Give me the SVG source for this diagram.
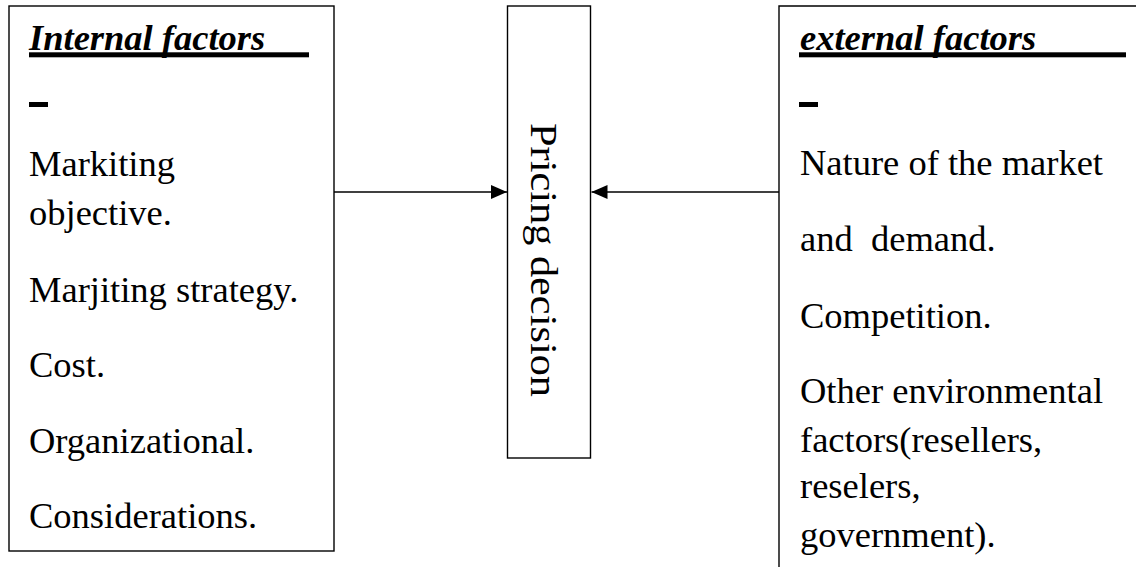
<svg xmlns="http://www.w3.org/2000/svg" width="1136" height="567" viewBox="0 0 1136 567">
<defs>
<style>
.box{fill:none;stroke:#000;stroke-width:1.4}
.t{font-family:"Liberation Serif","Times New Roman",serif;font-size:36.5px;fill:#000}
.h{font-weight:bold;font-style:italic}
.bar{fill:#000}
.conn{stroke:#000;stroke-width:1.4;fill:none}
</style>
<marker id="ah" markerWidth="16" markerHeight="14" refX="16" refY="7" orient="auto" markerUnits="userSpaceOnUse">
<path d="M0,0 L16,7 L0,14 Z" fill="#000"/>
</marker>
</defs>
<rect width="1136" height="567" fill="#fff"/>
<g id="internal">
<rect class="box" x="9" y="6" width="325" height="545"/>
<text class="t h" x="29" y="50">Internal factors</text>
<rect class="bar" x="29" y="52.3" width="280" height="5"/>
<rect class="bar" x="29" y="102" width="19" height="5"/>
<text class="t" x="29" y="176">Markiting</text>
<text class="t" x="29" y="225">objective.</text>
<text class="t" x="29" y="302">Marjiting strategy.</text>
<text class="t" x="29" y="377">Cost.</text>
<text class="t" x="29" y="453">Organizational.</text>
<text class="t" x="29" y="528">Considerations.</text>
</g>
<g id="pricing">
<rect class="box" x="507.5" y="6" width="83" height="452"/>
<text class="t" style="font-size:38px" transform="translate(531,123) rotate(90)" x="0" y="0" textLength="274" lengthAdjust="spacingAndGlyphs">Pricing decision</text>
</g>
<g id="external">
<path class="box" d="M779,567 V6 H1137"/>
<text class="t h" x="800" y="50">external factors</text>
<rect class="bar" x="799" y="52.3" width="327" height="5"/>
<rect class="bar" x="799" y="102" width="19" height="5"/>
<text class="t" x="800" y="175">Nature of the market</text>
<text class="t" x="800" y="251" xml:space="preserve">and  demand.</text>
<text class="t" x="800" y="328">Competition.</text>
<text class="t" x="800" y="403">Other environmental</text>
<text class="t" x="800" y="452">factors(resellers,</text>
<text class="t" x="800" y="498">reselers,</text>
<text class="t" x="800" y="547">government).</text>
</g>
<g id="connectors">
<line class="conn" x1="334" y1="192" x2="507" y2="192" marker-end="url(#ah)"/>
<line class="conn" x1="779" y1="192" x2="591.5" y2="192" marker-end="url(#ah)"/>
</g>
</svg>
